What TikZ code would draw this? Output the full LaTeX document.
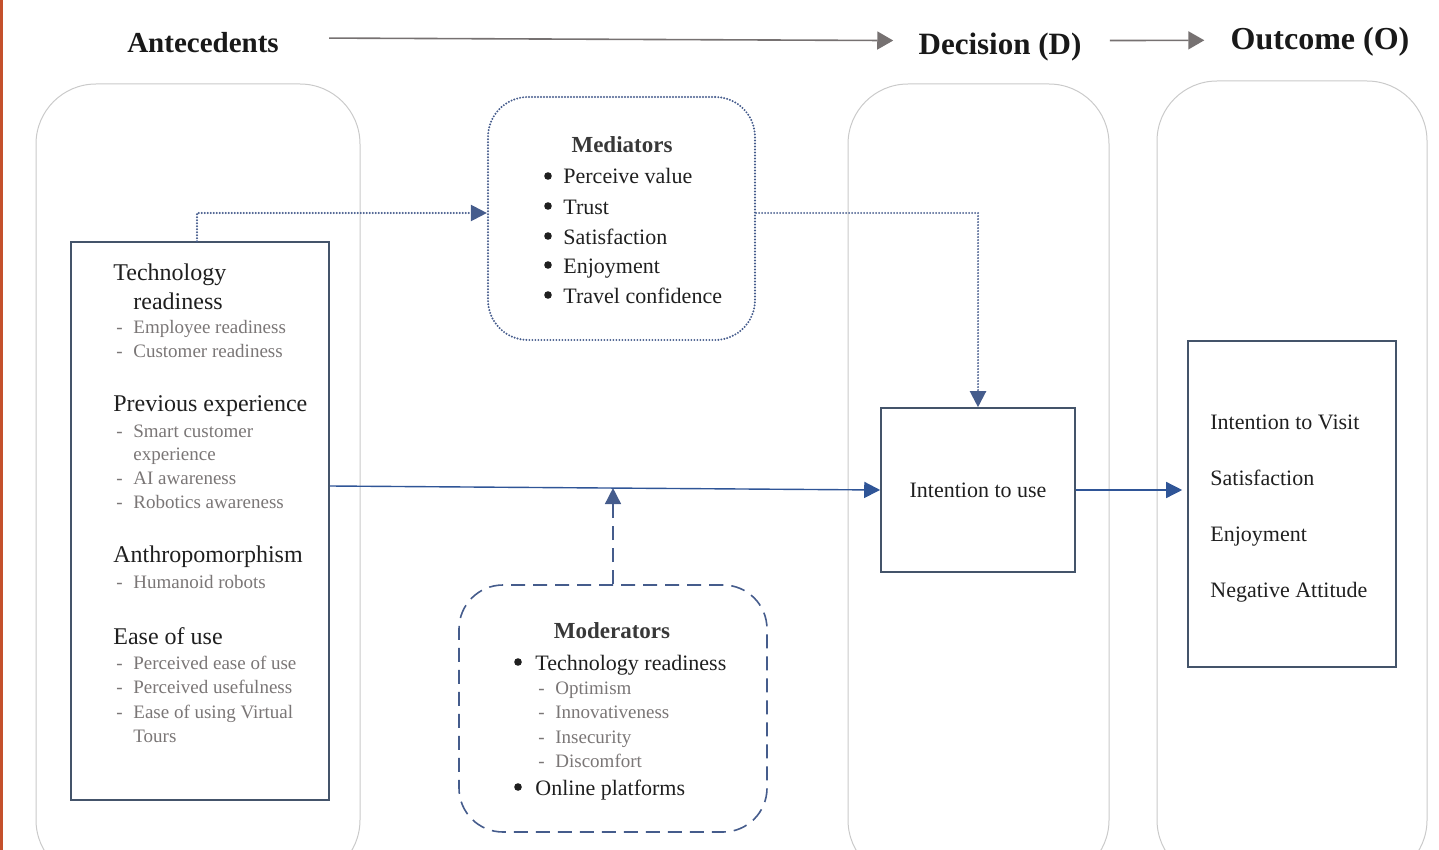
\documentclass[tikz,border=0pt]{standalone}
\usepackage{fontspec}
\setmainfont{Liberation Serif}
\usetikzlibrary{arrows.meta}
\definecolor{boxLine}{HTML}{44546A}
\definecolor{linkBlue}{HTML}{2F5597}
\definecolor{linkSlate}{HTML}{455C8C}
\definecolor{headGray}{HTML}{767171}
\definecolor{subGray}{HTML}{7A7676}
\definecolor{laneGray}{HTML}{CACACA}
\definecolor{edgeRed}{HTML}{C4502C}
\newcommand{\subLine}[4]{% name, x, y, text
  \node[subitem] (#1) at (#2,#3) {#4};
  \node[subitem] (#1-dash) at (#2-17,#3) {-};
}

\begin{document}
\begin{tikzpicture}[x=0.5pt, y=-0.5pt]
  \tikzset{
    lane/.style={draw=laneGray, line width=0.5pt, rounded corners=30pt},
    outbox/.style={draw=boxLine, line width=0.8pt, inner sep=0pt},
    header/.style={anchor=base, inner sep=0pt, text=black!90},
    topic/.style={anchor=base west, inner sep=0pt, font=\fontsize{12}{14}\selectfont, text=black!88},
    subitem/.style={anchor=base west, inner sep=0pt, font=\fontsize{9.5}{11}\selectfont, text=subGray},
    item/.style={anchor=base west, inner sep=0pt, font=\fontsize{11}{13}\selectfont, text=black!88},
    dotmark/.style={circle, fill=black!88, inner sep=0pt, minimum size=3.8pt},
    boxtitle/.style={anchor=base, inner sep=0pt, font=\bfseries\fontsize{11.5}{13}\selectfont, text=black!78},
    flow/.style={draw=headGray, line width=0.8pt, -{Triangle[length=8pt,width=9pt]}},
    direct/.style={draw=linkBlue, line width=0.7pt, -{Triangle[length=8pt,width=8pt]}},
    mediated/.style={draw=linkSlate, line width=1.1pt, line cap=round, dash pattern=on 0pt off 1.5pt, -{Triangle[length=8pt,width=8pt]}},
    moderated/.style={draw=linkSlate, line width=0.8pt, dash pattern=on 7pt off 4pt, -{Triangle[length=8pt,width=8pt]}}
  }
  \clip (0,0) rectangle (1439,850);
  \fill[edgeRed] (0,0) rectangle (3,850);

  % stage headers
  \node[header, font=\bfseries\fontsize{14.5}{18}\selectfont] (antehead) at (203,53) {Antecedents};
  \node[header, font=\bfseries\fontsize{15.5}{18}\selectfont] (dechead) at (1000,55) {Decision (D)};
  \node[header, font=\bfseries\fontsize{16}{18}\selectfont] (outhead) at (1320,50) {Outcome (O)};
  \draw[flow] ([xshift=25pt,yshift=2.5pt]antehead.east) -- ([xshift=-12.5pt,yshift=3.5pt]dechead.west);
  \draw[flow] ([xshift=14pt,yshift=3.5pt]dechead.east) -- ([xshift=-13pt,yshift=1pt]outhead.west);

  % lanes
  \node[lane, minimum width=162pt, minimum height=398pt] (antelane) at (198,482) {};
  \node[lane, minimum width=130.5pt, minimum height=398pt] (declane) at (978.5,482) {};
  \node[lane, minimum width=135pt, minimum height=399.5pt] (outlane) at (1292,480.5) {};

  % antecedents
  \node[outbox, minimum width=129pt, minimum height=279pt] (ante) at (200,521) {};
  \node[topic] (tech) at (113,280) {Technology};
  \node[topic] (tech-2) at (133,309) {readiness};
  \subLine{emp}{133}{333}{Employee readiness}
  \subLine{cust}{133}{357}{Customer readiness}
  \node[topic] (prev) at (113,411) {Previous experience};
  \subLine{smart}{133}{437}{Smart customer}
  \node[subitem] (smart-2) at (133,460) {experience};
  \subLine{aiaw}{133}{484}{AI awareness}
  \subLine{robo}{133}{508}{Robotics awareness}
  \node[topic] (anthro) at (113,562) {Anthropomorphism};
  \subLine{human}{133}{588}{Humanoid robots}
  \node[topic] (ease) at (113,644) {Ease of use};
  \subLine{peou}{133}{669}{Perceived ease of use}
  \subLine{pu}{133}{693}{Perceived usefulness}
  \subLine{vt}{133}{718}{Ease of using Virtual}
  \node[subitem] (vt-2) at (133,742) {Tours};

  % mediators
  \node[draw=linkSlate, line width=1.1pt, line cap=round, dash pattern=on 0pt off 1.5pt,
        rounded corners=20pt, minimum width=133.5pt, minimum height=121.5pt] (medi) at (621.5,218.5) {};
  \node[boxtitle] (meditle) at (622,153) {Mediators};
  \foreach \txt/\yy [count=\i] in {Perceive value/184, Trust/214, Satisfaction/244, Enjoyment/273, Travel confidence/303}{
    \node[dotmark] (medi-dot-\i) at (548,\yy-8) {};
    \node[item] (medi-\i) at (563,\yy) {\txt};
  }

  % moderators
  \node[draw=linkSlate, line width=0.8pt, dash pattern=on 7pt off 4pt,
        rounded corners=22pt, minimum width=154pt, minimum height=123.5pt] (moder) at (613,708.5) {};
  \node[boxtitle] (modtitle) at (612,638) {Moderators};
  \node[dotmark] (moder-dot-1) at (518,662) {};
  \node[item] (moder-1) at (535,670) {Technology readiness};
  \subLine{optim}{555}{694}{Optimism}
  \subLine{innov}{555}{718}{Innovativeness}
  \subLine{insec}{555}{743}{Insecurity}
  \subLine{disc}{555}{767}{Discomfort}
  \node[dotmark] (moder-dot-2) at (518,787) {};
  \node[item] (moder-2) at (535,795) {Online platforms};

  % decision and outcome
  \node[outbox, minimum width=97pt, minimum height=82pt, font=\fontsize{11}{13}\selectfont, text=black!88] (intent) at (978,490) {Intention to use};
  \node[outbox, minimum width=104pt, minimum height=163pt] (outc) at (1292,504) {};
  \foreach \txt/\yy [count=\i] in {Intention to Visit/429, Satisfaction/485, Enjoyment/541, Negative Attitude/597}{
    \node[item] (outc-\i) at (1210,\yy) {\txt};
  }

  % links
  \draw[mediated] ([xshift=-1.5pt]ante.north) |- ([yshift=2.75pt]medi.west);
  \draw[mediated] ([yshift=2.75pt]medi.east) -| (intent.north);
  \draw[direct] ([yshift=17.5pt]ante.east) -- coordinate[pos=0.514] (cross) (intent.west);
  \draw[moderated] (moder.north) -- (moder.north |- cross);
  \draw[direct, shorten >=2.5pt] (intent.east) -- (intent.east -| outc.west);
\end{tikzpicture}
\end{document}
